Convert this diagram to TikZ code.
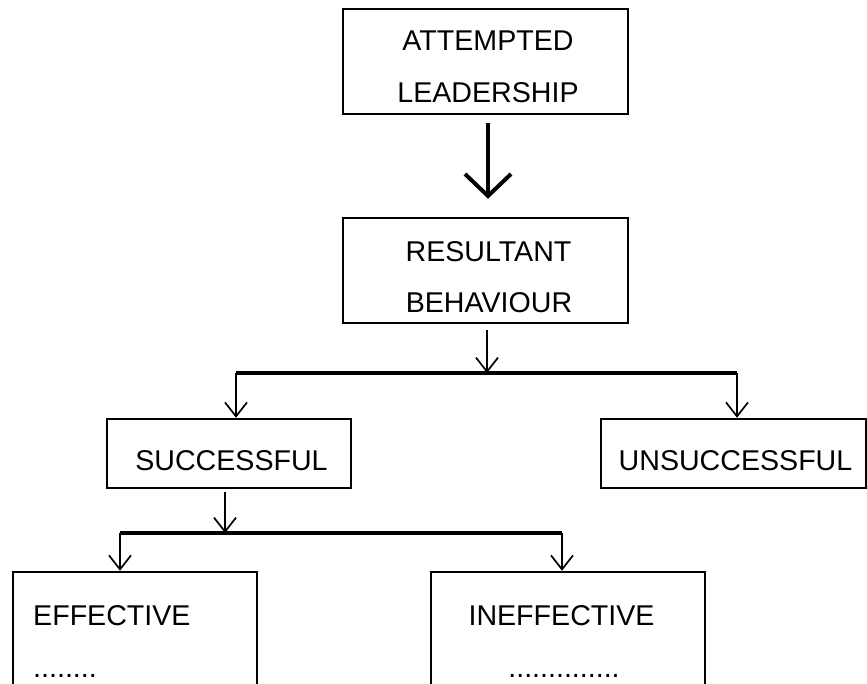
\documentclass[tikz,border=0pt]{standalone}
\usepackage{fontspec}
\setmainfont{Liberation Sans}
\usetikzlibrary{arrows.meta}

\tikzset{
  box/.style={draw, line width=2.5pt, inner sep=0pt, rectangle},
  lbl/.style={inner sep=0pt, anchor=base, font=\fontsize{28.6}{34}\selectfont},
  arr/.style={line width=1.7pt, -{Straight Barb[length=14pt,width=22pt]}},
  bigarr/.style={line width=4pt, -{Straight Barb[length=22pt,width=46pt]}},
  bar/.style={line width=3.3pt},
}

\begin{document}
\begin{tikzpicture}[x=1pt,y=-1pt]
  \useasboundingbox (0,0) rectangle (867,683);
  \clip (0,0) rectangle (867,683);

  % boxes
  \node[box, minimum width=285, minimum height=105] (lead) at (485.5,61.5) {};
  \node[box, minimum width=285, minimum height=105] (res) at (485.5,270.5) {};
  \node[box, minimum width=244, minimum height=69] (succ) at (229,453.5) {};
  \node[box, minimum width=265, minimum height=69] (unsucc) at (733.5,453.5) {};
  \node[box, minimum width=244, minimum height=160] (eff) at (135,652) {};
  \node[box, minimum width=274, minimum height=160] (ineff) at (568,652) {};

  % labels
  \node[lbl] (leadA) at (488,50) {ATTEMPTED};
  \node[lbl] (leadB) at (488,102) {LEADERSHIP};
  \node[lbl] (resA) at (488.5,261) {RESULTANT};
  \node[lbl] (resB) at (489,312) {BEHAVIOUR};
  \node[lbl] (succT) at (231.5,470) {SUCCESSFUL};
  \node[lbl] (unsuccT) at (735.5,470) {UNSUCCESSFUL};
  \node[lbl, anchor=base west] (effT) at (33,625) {EFFECTIVE};
  \node[lbl, anchor=base west] (effD) at (33,677) {........};
  \node[lbl] (ineffT) at (561.5,625) {INEFFECTIVE};
  \node[lbl] (ineffD) at (564,677) {..............};

  % junction points
  \coordinate (j1) at (487,373);
  \coordinate (j1L) at (236,373);
  \coordinate (j1R) at (737,373);
  \coordinate (j2) at (225,533);
  \coordinate (j2L) at (120,533);
  \coordinate (j2R) at (562,533);
  \coordinate (top) at (488,0);

  % connectors
  \draw[bigarr, shorten <=8pt, shorten >=18pt] (lead.south -| top) -- (res.north -| top);
  \draw[arr, shorten <=6pt] (res.south -| j1) -- (j1);
  \draw[bar] (j1L) -- (j1R);
  \draw[arr] (j1L) -- (succ.north -| j1L);
  \draw[arr] (j1R) -- (unsucc.north -| j1R);
  \draw[arr, shorten <=3pt] (succ.south -| j2) -- (j2);
  \draw[bar] (j2L) -- (j2R);
  \draw[arr] (j2L) -- (eff.north -| j2L);
  \draw[arr] (j2R) -- (ineff.north -| j2R);
\end{tikzpicture}
\end{document}
